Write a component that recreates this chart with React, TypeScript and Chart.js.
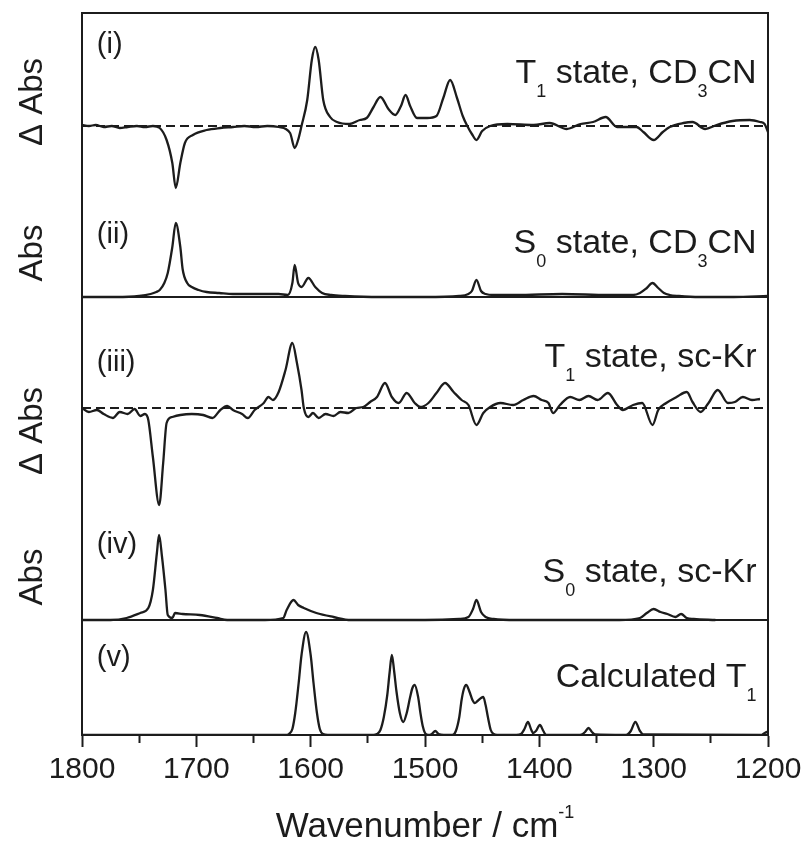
import React, { useEffect, useRef } from 'react';
import { Chart, registerables } from 'chart.js';

Chart.register(...registerables);

const FONT = '"Liberation Sans", Arial, Helvetica, sans-serif';
const INK = '#1c1c1c';

// ---------- data (wavenumber / cm-1, intensity in arbitrary units) ----------
// (i) T1 state, CD3CN  (difference spectrum)
const WN_I = [1800, 1794, 1788, 1781, 1774, 1767, 1760, 1752, 1745, 1738, 1732, 1726, 1721, 1718, 1714, 1710, 1703, 1691, 1679, 1668, 1658, 1648, 1638, 1628, 1618, 1614, 1611, 1608, 1603, 1599, 1596, 1593, 1589, 1583, 1577, 1566, 1557, 1551, 1545, 1539, 1532, 1526, 1521, 1517, 1513, 1507, 1498, 1490, 1484, 1478, 1472, 1467, 1463, 1459, 1455, 1450, 1443, 1428, 1405, 1391, 1376, 1364, 1353, 1342, 1332, 1315, 1309, 1300, 1292, 1286, 1274, 1266, 1255, 1245, 1231, 1216, 1207, 1203, 1200];
const ABS_I = [1, 0, 1, -1, 0, -2, -1, 0, -1, 0, -2, -14, -37, -62, -37, -17, -9, -4, -2, -1, 0, -1, 0, -1, -7, -22, -14, 0, 26, 66, 79, 66, 26, 9, 4, 2, 6, 8, 19, 29, 17, 11, 20, 31, 20, 8, 8, 10, 28, 46, 28, 10, 0, -8, -14, -5, 0, 2, 1, 3, -3, 2, 4, 9, -1, -1, -6, -14, -6, -1, 3, 4, -3, 1, 5, 6, 4, 2, -6];

// (ii) S0 state, CD3CN
const WN_II = [1800, 1770, 1750, 1740, 1735, 1732, 1728, 1725, 1721, 1718, 1714, 1712, 1708, 1704, 1698, 1691, 1680, 1668, 1655, 1640, 1628, 1620, 1616, 1614, 1611, 1608, 1602, 1596, 1590, 1582, 1570, 1540, 1500, 1470, 1462, 1459, 1455, 1451, 1447, 1440, 1420, 1380, 1340, 1318, 1312, 1306, 1301, 1296, 1291, 1286, 1278, 1260, 1230, 1200];
const ABS_II = [0, 0, 1, 3, 5, 7, 14, 24, 50, 74, 50, 28, 14, 10, 7, 5, 4, 3, 3, 3, 3, 2, 14, 32, 14, 10, 19, 10, 4, 2, 1, 0, 0, 1, 3, 6, 17, 6, 3, 2, 2, 3, 2, 2, 4, 9, 14, 9, 4, 2, 1, 0, 0, 1];

// (iii) T1 state, sc-Kr  (difference spectrum)
const WN_III = [1800, 1794, 1787, 1781, 1773, 1767, 1760, 1754, 1749, 1745, 1742, 1738, 1732.5, 1729, 1726, 1721, 1714, 1704, 1694, 1686, 1679, 1673, 1668, 1660, 1655, 1649, 1641, 1637, 1633, 1628, 1622, 1616, 1612, 1608, 1606, 1602, 1598, 1593, 1587, 1580, 1574, 1567, 1560, 1554, 1548, 1542, 1535, 1529, 1523, 1516, 1509, 1504, 1497, 1490, 1482.5, 1475, 1468, 1462, 1455, 1449, 1443, 1434, 1423, 1414, 1405, 1398, 1392, 1388, 1382, 1373, 1365, 1357, 1349, 1340, 1332, 1327, 1318, 1310, 1301, 1296, 1289, 1280, 1271, 1266, 1259, 1252, 1244, 1235, 1229, 1222, 1214, 1207];
const ABS_III = [0, -4, -2, -6, -10, -4, -6, -1, -8, -6, -12, -49, -97, -55, -15, -9, -7, -6, -7, -10, -2, 2, -2, -6, -10, -2, 5, 11, 8, 16, 38, 65, 45, 18, 0, -9, -5, -10, -6, -8, -4, -5, 0, 1, 6, 11, 25, 11, 5, 15, 5, 1, 5, 15, 25, 16, 8, 3, -17, -5, 1, 5, 3, 8, 12, 8, 5, -5, 3, 11, 8, 12, 8, 15, 3, -2, 3, 5, -17, -2, 5, 11, 16, 6, -4, 5, 18, 5, 6, 11, 8, 9];

// (iv) S0 state, sc-Kr
const WN_IV = [1800, 1775, 1761, 1749, 1742, 1738, 1734.5, 1732.6, 1730, 1727, 1725, 1721, 1718.6, 1712, 1697, 1682, 1673, 1640, 1624, 1621, 1615, 1611, 1606, 1595, 1580, 1565, 1500, 1470, 1462, 1458, 1455, 1451, 1447, 1440, 1420, 1330, 1312, 1306, 1300, 1294, 1288, 1281, 1276, 1271, 1265, 1246];
const ABS_IV = [0, 0, 2, 7, 12, 30, 67, 85, 63, 30, 5, 2, 7, 6, 5, 2, 0, 0, 2, 10, 20, 15, 12, 7, 3, 0, 0, 1, 3, 11, 20, 8, 3, 1, 0, 0, 2, 7, 11, 8, 6, 3, 6, 2, 1, 0];

// (v) Calculated T1
const WN_V = [1800, 1622, 1619, 1616, 1613.5, 1610.5, 1608, 1604, 1600, 1597.5, 1594.5, 1592, 1589, 1580, 1545, 1542, 1539, 1536, 1533, 1531, 1529, 1527, 1525, 1522, 1519, 1516, 1513, 1511, 1509, 1506, 1504, 1502, 1500, 1497, 1494, 1491, 1488, 1478, 1476, 1473, 1470, 1468, 1466, 1464, 1461, 1458.5, 1456.5, 1454, 1451, 1449, 1447, 1445, 1442.5, 1440, 1437, 1420, 1416, 1413, 1410, 1407, 1405.5, 1403, 1399.5, 1396.5, 1394, 1366, 1363, 1360, 1357, 1354, 1351, 1326, 1323, 1320, 1316, 1312, 1309, 1206, 1203, 1201, 1200];
const ABS_V = [0, 0, 1, 6, 22, 52, 80, 103, 80, 52, 22, 6, 1, 0, 0, 1, 5, 18, 40, 62, 80, 64, 44, 22, 13, 22, 38, 47, 50, 38, 22, 9, 2, 0, 1, 4, 1, 0, 0, 4, 18, 35, 46, 50, 43, 35, 32, 34, 37, 38, 30, 18, 5, 1, 0, 0, 1, 6, 13, 5, 2, 4, 10, 4, 0, 0, 0.5, 3, 7, 3, 0.5, 0, 0.5, 4, 13, 4, 0.5, 0, 2, 3, 2];

// axis
const X_MIN = 1200;
const X_MAX = 1800;
const X_STEP = 50;
const X_LABEL_STEP = 100;

// vertical stacking of the traces (y-axis units)
const OFFSET_I = 609;
const OFFSET_II = 438;
const OFFSET_III = 327;
const OFFSET_IV = 115;
const OFFSET_V = 0;
const Y_MAX = 722;

// texts
const PANEL_TAGS = ['(i)', '(ii)', '(iii)', '(iv)', '(v)'];
const PANEL_TAG_Y = [682, 492, 364, 182, 69];
const STATE_LABELS = [
  [{ t: 'T' }, { t: '1', sub: true }, { t: ' state, CD' }, { t: '3', sub: true }, { t: 'CN' }],
  [{ t: 'S' }, { t: '0', sub: true }, { t: ' state, CD' }, { t: '3', sub: true }, { t: 'CN' }],
  [{ t: 'T' }, { t: '1', sub: true }, { t: ' state, sc-Kr' }],
  [{ t: 'S' }, { t: '0', sub: true }, { t: ' state, sc-Kr' }],
  [{ t: 'Calculated T' }, { t: '1', sub: true }],
];
const STATE_LABEL_Y = [652, 482, 368, 153, 48];
const Y_TITLES = ['\u0394 Abs', 'Abs', '\u0394 Abs', 'Abs'];
const Y_TITLE_Y = [633, 482, 304, 158];
const X_TITLE = [{ t: 'Wavenumber / cm' }, { t: '-1', sup: true }];

type Seg = { t: string; sub?: boolean; sup?: boolean };

function series(wn: number[], ab: number[], off: number) {
  return wn.map((w, k) => ({ x: w, y: off + ab[k] }));
}
function flat(off: number) {
  return [
    { x: X_MAX, y: off },
    { x: X_MIN, y: off },
  ];
}

function drawRich(ctx: CanvasRenderingContext2D, segs: Seg[], x: number, y: number, align: string, size: number, small: number, subDrop: number, supRise: number) {
  const fonts = segs.map((s) => `${s.sub || s.sup ? small : size}px ${FONT}`);
  const widths = segs.map((s, k) => {
    ctx.font = fonts[k];
    return ctx.measureText(s.t).width;
  });
  const total = widths.reduce((a, b) => a + b, 0);
  let cx = align === 'right' ? x - total : align === 'center' ? x - total / 2 : x;
  ctx.textAlign = 'left';
  ctx.textBaseline = 'alphabetic';
  segs.forEach((s, k) => {
    ctx.font = fonts[k];
    const dy = s.sub ? subDrop : s.sup ? -supRise : 0;
    ctx.fillText(s.t, cx, y + dy);
    cx += widths[k];
  });
}

const annotPlugin = {
  id: 'annot',
  afterDraw(chart: any) {
    const { ctx, chartArea: a, scales } = chart;
    const xs = scales.x;
    const ys = scales.y;
    ctx.save();
    ctx.strokeStyle = INK;
    ctx.lineWidth = 2;
    ctx.strokeRect(a.left, a.top, a.right - a.left, a.bottom - a.top);
    ctx.fillStyle = INK;

    // panel tags
    ctx.font = `29px ${FONT}`;
    ctx.textAlign = 'left';
    ctx.textBaseline = 'alphabetic';
    PANEL_TAGS.forEach((t, k) => {
      ctx.fillText(t, xs.getPixelForValue(1787), ys.getPixelForValue(PANEL_TAG_Y[k]));
    });

    // state labels
    STATE_LABELS.forEach((segs, k) => {
      drawRich(ctx, segs as Seg[], xs.getPixelForValue(1210), ys.getPixelForValue(STATE_LABEL_Y[k]), 'right', 34, 18, 14, 0);
    });

    // y titles (rotated)
    ctx.font = `33px ${FONT}`;
    Y_TITLES.forEach((t, k) => {
      ctx.save();
      ctx.translate(a.left - 40, ys.getPixelForValue(Y_TITLE_Y[k]));
      ctx.rotate(-Math.PI / 2);
      ctx.textAlign = 'center';
      ctx.textBaseline = 'alphabetic';
      ctx.fillText(t, 0, 0);
      ctx.restore();
    });

    // x title
    drawRich(ctx, X_TITLE as Seg[], (a.left + a.right) / 2, a.bottom + 102, 'center', 35, 18, 0, 19);
    ctx.restore();
  },
};

export default function App() {
  const ref = useRef<HTMLCanvasElement | null>(null);

  useEffect(() => {
    if (!ref.current) return;
    const line = (data: any[], extra: any = {}) => ({
      data,
      borderColor: INK,
      borderWidth: 2.3,
      pointRadius: 0,
      fill: false,
      cubicInterpolationMode: 'monotone',
      ...extra,
    });
    const chart = new Chart(ref.current, {
      type: 'line',
      data: {
        datasets: [
          line(series(WN_I, ABS_I, OFFSET_I)),
          line(series(WN_II, ABS_II, OFFSET_II)),
          line(series(WN_III, ABS_III, OFFSET_III)),
          line(series(WN_IV, ABS_IV, OFFSET_IV)),
          line(series(WN_V, ABS_V, OFFSET_V)),
          line(flat(OFFSET_I), { borderDash: [9, 5], borderWidth: 2 }),
          line(flat(OFFSET_III), { borderDash: [9, 5], borderWidth: 2 }),
          line(flat(OFFSET_II), { borderWidth: 2 }),
          line(flat(OFFSET_IV), { borderWidth: 2 }),
        ] as any,
      },
      options: {
        responsive: false,
        animation: false,
        events: [],
        layout: { padding: { left: 82, top: 13, right: 39, bottom: 0 } },
        plugins: { legend: { display: false }, tooltip: { enabled: false } },
        scales: {
          x: {
            type: 'linear',
            min: X_MIN,
            max: X_MAX,
            reverse: true,
            afterFit: (s: any) => {
              s.height = 112;
            },
            ticks: {
              stepSize: X_STEP,
              autoSkip: false,
              maxRotation: 0,
              padding: 5,
              color: INK,
              font: { family: FONT, size: 30 },
              callback: (v: any) => (Number(v) % X_LABEL_STEP === 0 ? String(v) : ''),
            },
            grid: {
              display: true,
              drawOnChartArea: false,
              drawTicks: true,
              tickLength: 12,
              tickWidth: 2,
              tickColor: INK,
              tickBorderDash: (c: any) => (c.tick && Number(c.tick.value) % X_LABEL_STEP !== 0 ? [7, 60] : []),
            },
            border: { display: true, color: INK, width: 2 },
          },
          y: {
            type: 'linear',
            display: false,
            min: 0,
            max: Y_MAX,
          },
        },
      } as any,
      plugins: [annotPlugin],
    });
    return () => chart.destroy();
  }, []);

  return (
    <div style={{ position: 'absolute', left: 0, top: 0, width: 807, height: 847, background: '#fff' }}>
      <canvas ref={ref} width={807} height={847} style={{ width: 807, height: 847, display: 'block' }} />
    </div>
  );
}
